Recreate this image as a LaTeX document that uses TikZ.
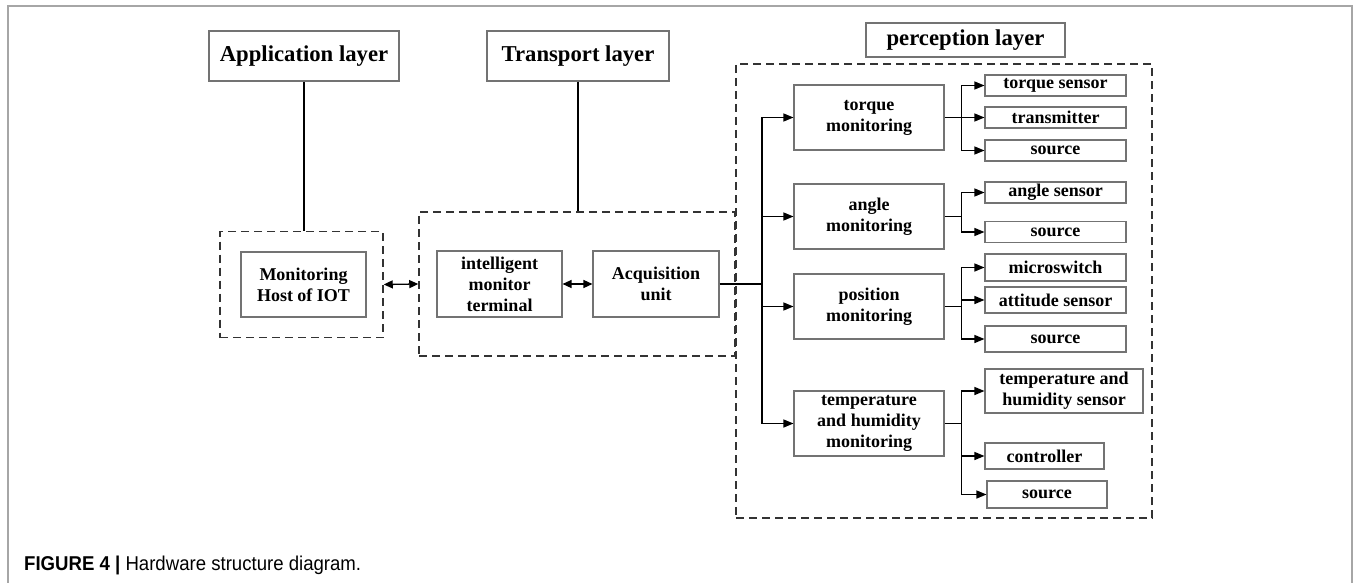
\documentclass[tikz,border=0pt]{standalone}
\usepackage{fontspec}
\setmainfont{Liberation Serif}
\newfontfamily\capfont{Liberation Sans}
\usetikzlibrary{arrows.meta}

\begin{document}
\begin{tikzpicture}[x=1pt,y=-1pt,
	layer/.style={draw=gray!90!black, line width=1.1pt, inner sep=0pt, font=\bfseries\fontsize{22.7}{26}\selectfont},
	unit/.style={draw=gray!90!black, line width=1.1pt, inner sep=0pt, align=center, font=\bfseries\fontsize{18}{21}\selectfont},
	mon/.style={unit, minimum width=150pt, minimum height=65pt},
	dev/.style={unit, minimum width=141pt, minimum height=21pt},
	group/.style={draw=black!80, line width=1.5pt, dash pattern=on 8pt off 5pt, inner sep=0pt},
	link/.style={line width=1.2pt},
	arr/.style={line width=1.3pt, -{Triangle[length=10pt,width=8pt]}},
	dbl/.style={line width=1.3pt, {Triangle[length=9pt,width=8pt]}-{Triangle[length=9pt,width=8pt]}}]
	\useasboundingbox (0,0) rectangle (1356,583);
	% Frame
	\draw [gray!70, line width=1.2pt] (8,583) -- (8,6) -- (1352,6) -- (1352,583);
	% Layers
	\node[layer, minimum width=190pt, minimum height=50pt] (applayer)   at (304,56)    {Application layer};
	\node[layer, minimum width=182pt, minimum height=50pt] (translayer) at (578,56)    {Transport layer};
	\node[layer, minimum width=199pt, minimum height=34pt] (perclayer)  at (965.5,40)  {perception layer};
	% Groups
	\node[group, minimum width=163pt, minimum height=106pt] (hostgrp)  at (301.5,284.5) {};
	\node[group, minimum width=316pt, minimum height=144pt] (transgrp) at (577,284)     {};
	\node[group, minimum width=416pt, minimum height=454pt] (percgrp)  at (944,291)     {};
	% Host and terminal
	\node[unit, minimum width=125pt, minimum height=65pt] (host)  at (303.5,284.5) {Monitoring\\Host of IOT};
	\node[unit, minimum width=125pt, minimum height=66pt] (intel) at (499.5,284)   {intelligent\\monitor\\terminal};
	\node[unit, minimum width=126pt, minimum height=66pt] (acq)   at (656,284)     {Acquisition\\unit};
	% Monitoring
	\node[mon] (torquemon) at (869,117.5) {torque\\monitoring};
	\node[mon] (anglemon)  at (869,216.5) {angle\\monitoring};
	\node[mon] (posmon)    at (869,306.5) {position\\monitoring};
	\node[mon] (tempmon)   at (869,423.5) {temperature\\and humidity\\monitoring};
	% Devices
	\node[dev] (tqsensor)  at (1055.5,85.5)  {torque sensor};
	\node[dev] (tqtrans)   at (1055.5,117.5) {transmitter};
	\node[dev] (tqsource)  at (1055.5,150.5) {source};
	\node[dev] (angsensor) at (1055.5,192.5) {angle sensor};
	\node[dev] (angsource) at (1055.5,232)   {source};
	\node[dev, minimum height=27pt] (microsw)   at (1055.5,267.5) {microswitch};
	\node[dev, minimum height=26pt] (attsensor) at (1055.5,300)   {attitude sensor};
	\node[dev, minimum height=26pt] (possource) at (1055.5,339)   {source};
	\node[dev, minimum width=158pt, minimum height=44pt] (thsensor) at (1064,391)   {temperature and\\humidity sensor};
	\node[dev, minimum width=119pt, minimum height=26pt] (ctrl)     at (1044.5,456) {controller};
	\node[dev, minimum width=120pt, minimum height=27pt] (thsource) at (1047,494.5) {source};
	% Links
	\draw[link] (applayer.south) -- (applayer.south |- hostgrp.north);
	\draw[link] (translayer.south) -- (translayer.south |- transgrp.north);
	\draw[dbl] (hostgrp.east) -- (transgrp.west);
	\draw[dbl] (intel.east) -- (acq.west);
	\coordinate (trunk) at (762,284);
	\draw[link] (acq.east) -- (trunk);
	\foreach \m in {torquemon,anglemon,posmon,tempmon}
		\draw[arr] (trunk) |- (\m.west);
	\coordinate (tq)  at ([xshift=17pt]torquemon.east);
	\coordinate (ang) at ([xshift=17pt]anglemon.east);
	\coordinate (pos) at ([xshift=17pt]posmon.east);
	\coordinate (th)  at ([xshift=17pt]tempmon.east);
	\draw[link] (torquemon.east) -- (tq);
	\draw[link] (anglemon.east) -- (ang);
	\draw[link] (posmon.east) -- (pos);
	\draw[link] (tempmon.east) -- (th);
	\foreach \d in {tqsensor,tqtrans,tqsource}
		\draw[arr] (tq) |- (\d.west);
	\foreach \d in {angsensor,angsource}
		\draw[arr] (ang) |- (\d.west);
	\foreach \d in {microsw,attsensor,possource}
		\draw[arr] (pos) |- (\d.west);
	\foreach \d in {thsensor,ctrl,thsource}
		\draw[arr] (th) |- (\d.west);
	% Caption
	\node[anchor=west, inner sep=0pt, font=\capfont\fontsize{20}{24}\selectfont] (caption) at (24,565) {\scalebox{0.93}[1]{\textbf{FIGURE 4 |} Hardware structure diagram.}};
\end{tikzpicture}
\end{document}
